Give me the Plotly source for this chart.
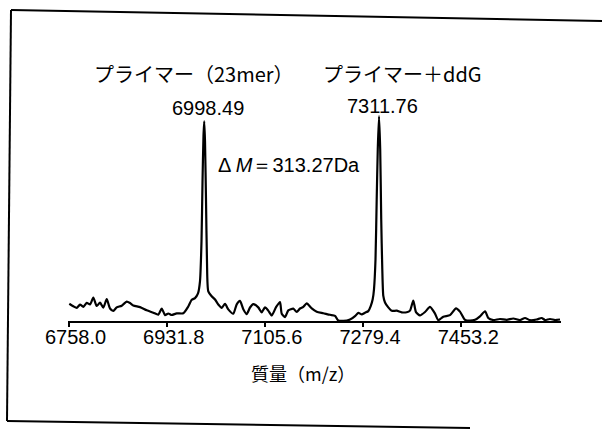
import plotly.graph_objects as go

# ---- data (mass m/z, relative intensity above baseline) ----
mass = [6759.4, 6766.5, 6772.5, 6778.4, 6784.2, 6790.2, 6796.1, 6801.9, 6807.9, 6813.8,
        6819.6, 6825.6, 6831.5, 6837.3, 6843.3, 6852.2, 6861.0, 6866.9, 6872.7, 6884.6,
        6896.4, 6908.1, 6917.0, 6923.0, 6928.8, 6934.6, 6940.7, 6949.5, 6961.2, 6970.0,
        6976.1, 6981.9, 6987.2, 6990.7, 6993.4, 6995.2, 6996.9, 6998.2, 6999.6, 7001.4,
        7003.1, 7005.4, 7011.5, 7017.3, 7023.1, 7029.2, 7035.0, 7040.8, 7049.7, 7055.7,
        7061.5, 7067.4, 7073.4, 7079.3, 7085.1, 7093.9, 7100.0, 7105.8, 7111.6, 7117.7,
        7125.3, 7132.3, 7135.4, 7141.2, 7147.0, 7155.9, 7161.9, 7167.8, 7173.6, 7179.6,
        7188.5, 7197.3, 7209.0, 7220.8, 7229.7, 7235.5, 7250.4, 7256.3, 7265.1, 7270.9,
        7277.0, 7282.8, 7288.6, 7292.9, 7296.4, 7298.7, 7301.4, 7303.5, 7305.4, 7307.6,
        7309.7, 7311.5, 7313.4, 7315.2, 7318.2, 7324.0, 7330.0, 7338.9, 7347.7, 7356.6,
        7362.4, 7368.3, 7373.0, 7380.1, 7389.0, 7397.8, 7406.7, 7412.5, 7421.4, 7433.2,
        7443.9, 7450.9, 7459.8, 7468.6, 7477.5, 7486.3, 7495.2, 7501.0, 7509.9, 7521.7,
        7533.6, 7545.3, 7557.1, 7566.0, 7574.8, 7586.6, 7595.5, 7601.4, 7610.2, 7619.1,
        7628.0]
intensity = [17.3, 14.8, 13.1, 16.4, 14.2, 18.2, 16.6, 23.3, 15.0, 18.4,
             13.4, 21.8, 12.5, 10.2, 13.6, 15.3, 19.4, 18.0, 15.5, 13.9,
             10.7, 8.3, 6.4, 12.4, 5.9, 7.5, 6.0, 7.6, 7.7, 14.5,
             21.2, 22.9, 27.6, 39.6, 79.6, 139.6, 184.6, 199.7, 179.7, 119.7,
             59.7, 29.7, 24.7, 21.5, 16.5, 13.2, 17.2, 11.6, 7.3, 16.7,
             20.1, 11.8, 6.9, 13.5, 16.9, 13.6, 8.6, 13.7, 10.4, 5.5,
             13.8, 18.9, 7.3, 3.9, 10.6, 12.4, 9.0, 12.5, 14.1, 17.6,
             12.6, 9.3, 7.8, 6.2, 5.2, 0.5, 0.5, 1.4, 4.8, 8.2,
             6.6, 8.3, 9.9, 14.9, 21.7, 31.7, 61.7, 121.7, 171.8, 204.8,
             171.8, 101.8, 51.8, 25.1, 18.5, 13.6, 10.2, 10.3, 8.7, 8.8,
             10.4, 20.5, 8.9, 5.6, 9.0, 14.1, 7.4, 0.8, 4.3, 5.9,
             12.7, 9.4, 1.1, 0.3, 1.2, 4.7, 9.7, 3.0, 1.0, 2.0,
             1.2, 2.5, 1.0, 3.0, 0.8, 1.5, 3.0, 1.0, 2.0, 1.0,
             1.5]

tick_vals = [6758.0, 6931.8, 7105.6, 7279.4, 7453.2]
tick_text = ["6758.0", "6931.8", "7105.6", "7279.4", "7453.2"]

peak_labels = ["6998.49", "7311.76"]
series_labels = ["プライマー（23mer）", "プライマー＋ddG"]
delta_label = "Δ <i>M</i>＝313.27Da"
x_title = "質量（m/z）"

# ---- layout geometry (pixels) ----
W, H = 602, 430
L, R, T, B = 68, 41, 10, 109
PW, PH = W - L - R, H - T - B
BOTTOM = H - B


def px(x):
    return (x - L) / PW


def py(y):
    return (BOTTOM - y) / PH


LATIN = "Liberation Sans, Arial, sans-serif"
CJK = "Noto Sans CJK JP, Liberation Sans, sans-serif"

fig = go.Figure()
fig.add_trace(go.Scatter(x=mass, y=intensity, mode="lines",
                         line=dict(color="black", width=2.2, shape="spline", smoothing=0.6),
                         hoverinfo="skip", showlegend=False))

annotations = [
    dict(text=series_labels[0], x=px(194), y=py(73), font=dict(family=CJK, size=20)),
    dict(text=series_labels[1], x=px(402), y=py(73), font=dict(family=CJK, size=20)),
    dict(text=peak_labels[0], x=px(208), y=py(108), font=dict(family=LATIN, size=20)),
    dict(text=peak_labels[1], x=px(382), y=py(106), font=dict(family=LATIN, size=20)),
    dict(text=delta_label, x=px(289), y=py(165), font=dict(family=LATIN, size=20)),
    dict(text=x_title, x=px(303), y=py(373), font=dict(family=CJK, size=18)),
]
for a in annotations:
    a.update(xref="paper", yref="paper", showarrow=False, xanchor="center",
             yanchor="middle")
    a["font"]["color"] = "black"

frame = dict(color="black", width=2)
shapes = [
    dict(type="line", xref="paper", yref="paper", x0=px(11), y0=py(10), x1=px(602), y1=py(21), line=frame),
    dict(type="line", xref="paper", yref="paper", x0=px(11), y0=py(10), x1=px(7), y1=py(421), line=frame),
    dict(type="line", xref="paper", yref="paper", x0=px(7), y0=py(421), x1=px(470), y1=py(428), line=frame),
]

fig.update_layout(
    width=W, height=H,
    margin=dict(l=L, r=R, t=T, b=B, pad=0),
    paper_bgcolor="white", plot_bgcolor="white",
    annotations=annotations, shapes=shapes,
    xaxis=dict(range=[6757.1, 6757.1 + PW * 1.77], tickvals=tick_vals, ticktext=tick_text,
               showline=True, linecolor="black", linewidth=2, ticks="outside",
               ticklen=4, tickwidth=1.5, tickcolor="black", showgrid=False,
               zeroline=False, ticklabelshift=7, ticklabelstandoff=-7,
               tickfont=dict(family=LATIN, size=20, color="black")),
    yaxis=dict(range=[0, PH], visible=False, showgrid=False, zeroline=False),
)

fig.write_html("out.html", config={"displayModeBar": False},
               post_script="document.body.style.margin='0';")
